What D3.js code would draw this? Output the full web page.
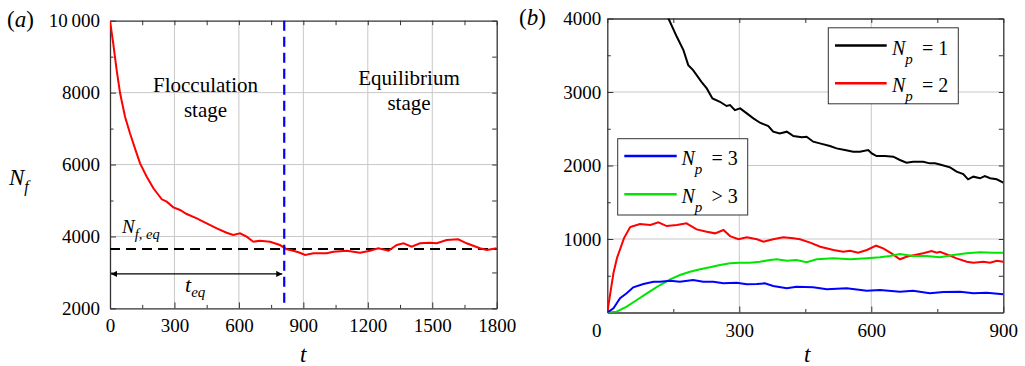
<!DOCTYPE html>
<html><head><meta charset="utf-8">
<script src="https://cdn.jsdelivr.net/npm/d3@7"></script>
</head><body style="margin:0">
<svg id="c" width="1025" height="366"></svg>
<script>
// ---------- Panel (a) data ----------
const tA  = [0,15,31,47,70,93,124,140,171,202,241,264,295,326,357,404,450,497,543,574,605,636,667,698,745,791,823,853,884,908,947,1009,1040,1102,1164,1210,1249,1296,1335,1366,1404,1443,1490,1521,1567,1621,1660,1722,1754,1800];
const nfA = [10000,9372,8629,7981,7330,6869,6312,6034,5662,5339,5033,4967,4811,4736,4624,4505,4366,4227,4105,4040,4087,3993,3854,3882,3854,3762,3643,3604,3548,3484,3531,3531,3576,3604,3548,3604,3671,3604,3762,3810,3715,3810,3826,3810,3901,3920,3810,3671,3623,3671];
const tEq = 811;
const nfEq = 3650;
const arrowY = 2960;
const xTicksA = [0,300,600,900,1200,1500,1800];
const xMinorA = [150,450,750,1050,1350,1650];
const yTicksA = [2000,4000,6000,8000,10000];
const yMinorA = [3000,5000,7000,9000];
const xGridA = [300,600,900,1200,1500];
const yGridA = [4000,6000,8000];

// ---------- Panel (b) data ----------
const tP1 = [125,139,158,173,184,195,214,226,239,256,271,279,290,302,317,332,347,366,377,392,408,423,442,453,468,483,506,521,540,559,574,593,601,612,631,650,665,680,695,718,733,745,760,779,794,809,820,832,847,858,870,885,900];
const nP1 = [4200,4000,3751,3570,3366,3298,3139,3049,2913,2867,2809,2822,2754,2777,2709,2641,2582,2537,2460,2437,2460,2401,2383,2392,2324,2301,2265,2233,2211,2188,2188,2211,2165,2129,2129,2120,2075,2039,2052,2052,2029,2029,2007,1975,1916,1884,1812,1848,1826,1857,1826,1812,1767];
const tP2 = [0,14,22,38,52,74,98,116,135,158,180,203,226,245,264,279,298,317,340,355,377,400,423,438,461,484,514,536,552,570,590,611,627,646,665,680,699,718,737,749,756,775,794,817,832,855,870,885,900];
const nP2 = [0,537,741,1013,1163,1204,1190,1227,1176,1190,1213,1131,1099,1077,1122,1040,996,1023,996,963,996,1023,1009,996,950,895,850,827,841,813,850,909,873,805,724,759,782,805,837,813,827,782,737,691,677,691,677,705,691];
const tP3 = [0,14,29,44,59,82,105,120,143,165,195,218,241,264,294,317,340,358,377,408,430,468,499,544,590,620,665,695,733,764,802,832,862,900];
const nP3 = [0,57,193,261,343,388,419,419,432,419,442,419,419,397,405,383,388,397,360,329,351,343,316,329,296,306,283,296,261,279,283,261,269,247];
const tP4 = [0,21,44,67,90,112,120,143,165,188,211,233,256,279,300,324,347,370,385,408,430,453,476,514,552,590,620,642,665,695,726,756,786,817,847,877,900];
const nP4 = [0,11,79,170,261,345,374,451,510,555,588,615,646,669,677,677,691,714,723,705,714,683,723,737,723,737,751,768,796,768,768,751,782,805,819,813,813];
const xTicksB = [0,300,600,900];
const xMinorB = [150,450,750];
const yTicksB = [1000,2000,3000,4000];
const yMinorB = [500,1500,2500,3500];
const xGridB = [300,600];
const yGridB = [1000,2000,3000];
const legend1 = [{label:"1", op:"=", color:"#000"},{label:"2", op:"=", color:"#ff0000"}];
const legend2 = [{label:"3", op:"=", color:"#0000ff"},{label:"3", op:">", color:"#00e600"}];

const SERIF = "'Liberation Serif'";
const svg = d3.select("#c");
const AX = "#333";
const GRID = "#c8c8c8";

function styleAxis(g, fs){
  g.attr("font-family",null).attr("font-size",null);
  g.selectAll("text").style("font-family",SERIF).attr("font-size",fs).attr("fill","#000");
  g.selectAll("line").attr("stroke",AX).attr("stroke-width",1);
  g.select(".domain").attr("stroke",AX).attr("stroke-width",1.3);
}

function frame(x, y, o){
  const [x0,x1] = x.range(), [y0,y1] = y.range();
  const G = svg.append("g");
  G.selectAll(null).data(o.xGrid).join("line")
    .attr("x1",d=>x(d)).attr("x2",d=>x(d)).attr("y1",y0).attr("y2",y1)
    .attr("stroke",GRID).attr("stroke-width",1);
  G.selectAll(null).data(o.yGrid).join("line")
    .attr("y1",d=>y(d)).attr("y2",d=>y(d)).attr("x1",x0).attr("x2",x1)
    .attr("stroke",GRID).attr("stroke-width",1);
  const b = G.append("g").attr("transform",`translate(0,${y0})`)
    .call(d3.axisBottom(x).tickValues(o.xTicks).tickSize(-6).tickSizeOuter(0).tickPadding(o.xPad).tickFormat(o.xFmt||d3.format("d")));
  styleAxis(b,19);
  const bm = G.append("g").attr("transform",`translate(0,${y0})`)
    .call(d3.axisBottom(x).tickValues(o.xMinor).tickSize(-3.5).tickFormat(""));
  bm.select(".domain").remove(); styleAxis(bm,19);
  const t = G.append("g").attr("transform",`translate(0,${y1})`)
    .call(d3.axisTop(x).tickValues(o.xTicks.concat(o.xMinor)).tickSize(-4.5).tickSizeOuter(0).tickFormat(""));
  styleAxis(t,19);
  const l = G.append("g").attr("transform",`translate(${x0},0)`)
    .call(d3.axisLeft(y).tickValues(o.yTicks).tickSize(-6).tickSizeOuter(0).tickPadding(o.yPad).tickFormat(o.yFmt||d3.format("d")));
  styleAxis(l,19);
  const lm = G.append("g").attr("transform",`translate(${x0},0)`)
    .call(d3.axisLeft(y).tickValues(o.yMinor).tickSize(-3.5).tickFormat(""));
  lm.select(".domain").remove(); styleAxis(lm,19);
  const r = G.append("g").attr("transform",`translate(${x1},0)`)
    .call(d3.axisRight(y).tickValues(o.yTicks.concat(o.yMinor)).tickSize(-4.5).tickSizeOuter(0).tickFormat(""));
  styleAxis(r,19);
  return {b,l};
}

function txt(parent, x, y, fs){
  return parent.append("text").attr("x",x).attr("y",y).style("font-family",SERIF).attr("font-size",fs);
}
function italicSub(parent, x, y, main, sub, fs, sfs, sdx, sdy){
  const t = txt(parent, x, y, fs);
  t.append("tspan").style("font-style","italic").text(main);
  t.append("tspan").style("font-style","italic").attr("font-size",sfs).attr("dx",sdx).attr("dy",sdy).text(sub);
  return t;
}

// ====== Panel (a) ======
const xa = d3.scaleLinear().domain([0,1800]).range([110,496.7]);
const ya = d3.scaleLinear().domain([2000,10000]).range([308.4,20.7]);
frame(xa, ya, {xGrid:xGridA,yGrid:yGridA,xTicks:xTicksA,xMinor:xMinorA,yTicks:yTicksA,yMinor:yMinorA,
  xPad:10, yPad:10, yFmt:d=> d===10000 ? "10\u2009000" : String(d)});

svg.append("defs").html(`<clipPath id="ca"><rect x="110" y="20.7" width="386.7" height="287.7"/></clipPath>
<clipPath id="cb"><rect x="607.3" y="18.5" width="396" height="294"/></clipPath>
<marker id="ah" viewBox="0 0 10 10" refX="10" refY="5" markerWidth="9" markerHeight="6" markerUnits="userSpaceOnUse" orient="auto-start-reverse"><path d="M0,0L10,5L0,10z" fill="#000"/></marker>`);

const gA = svg.append("g");
gA.append("line").attr("x1",xa(0)).attr("x2",xa(1800)).attr("y1",ya(nfEq)).attr("y2",ya(nfEq))
  .attr("stroke","#000").attr("stroke-width",2).attr("stroke-dasharray","10,6");
gA.append("path").datum(tA.map((t,i)=>[t,nfA[i]]))
  .attr("d",d3.line().x(d=>xa(d[0])).y(d=>ya(d[1])))
  .attr("fill","none").attr("stroke","#ff0000").attr("stroke-width",2).attr("clip-path","url(#ca)");
gA.append("line").attr("x1",xa(tEq)).attr("x2",xa(tEq)).attr("y1",ya(10000)).attr("y2",ya(2000))
  .attr("stroke","#0000ff").attr("stroke-width",2.2).attr("stroke-dasharray","10,6");
gA.append("line").attr("x1",xa(0)+1).attr("x2",xa(tEq)-2).attr("y1",ya(arrowY)).attr("y2",ya(arrowY))
  .attr("stroke","#000").attr("stroke-width",1.2)
  .attr("marker-start","url(#ah)").attr("marker-end","url(#ah)");

txt(gA,205.5,92,21).attr("text-anchor","middle").text("Flocculation");
txt(gA,205.5,117,21).attr("text-anchor","middle").text("stage");
txt(gA,409,85,21).attr("text-anchor","middle").text("Equilibrium");
txt(gA,409,109.5,21).attr("text-anchor","middle").text("stage");
italicSub(gA, 122, 232.5, "N", "f, eq", 19, 14.5, 0, 6);
italicSub(gA, 185, 292, "t", "eq", 22, 15, 0, 5);
italicSub(gA, 9, 185, "N", "f", 23, 16, 0, 7);
txt(gA,300,362,23).style("font-style","italic").text("t");
const la = txt(gA,7,27,23);
la.append("tspan").text("(");
la.append("tspan").style("font-style","italic").text("a");
la.append("tspan").text(")");

// ====== Panel (b) ======
const xb = d3.scaleLinear().domain([0,900]).range([607.3,1003.3]);
const yb = d3.scaleLinear().domain([0,4000]).range([312.5,18.5]);
const fb = frame(xb, yb, {xGrid:xGridB,yGrid:yGridB,xTicks:xTicksB,xMinor:xMinorB,yTicks:yTicksB,yMinor:yMinorB,
  xPad:11, yPad:6});
fb.b.selectAll(".tick text").filter(d=>d===0).attr("dx",-11);

const gB = svg.append("g").attr("clip-path","url(#cb)");
const lineB = d3.line().x(d=>xb(d[0])).y(d=>yb(d[1]));
const seriesB = [
  {t:tP1, v:nP1, c:"#000"},
  {t:tP2, v:nP2, c:"#ff0000"},
  {t:tP4, v:nP4, c:"#00e600"},
  {t:tP3, v:nP3, c:"#0000ff"}
];
seriesB.forEach(s=>{
  gB.append("path").datum(s.t.map((t,i)=>[t,s.v[i]])).attr("d",lineB)
    .attr("fill","none").attr("stroke",s.c).attr("stroke-width",2);
});

function legend(x, y, w, h, items, lx0, lx1, ly, step, tx){
  const g = svg.append("g");
  g.append("rect").attr("x",x).attr("y",y).attr("width",w).attr("height",h)
    .attr("fill","#fff").attr("stroke",AX).attr("stroke-width",1);
  items.forEach((it,i)=>{
    const yy = ly + i*step;
    g.append("line").attr("x1",lx0).attr("x2",lx1).attr("y1",yy).attr("y2",yy)
      .attr("stroke",it.color).attr("stroke-width",2.5);
    const t = txt(g, tx, yy+9, 20);
    t.append("tspan").style("font-style","italic").text("N");
    t.append("tspan").style("font-style","italic").attr("font-size",15).attr("dx",0).attr("dy",9).text("p");
    txt(g, tx+30, yy+9, 20).text(it.op + " " + it.label);
  });
}
legend(828.3, 27.8, 130, 76, legend1, 835, 886.7, 45.5, 37.8, 892);
legend(617.7, 138.7, 130, 76.3, legend2, 624.3, 676.7, 156, 38.3, 681.5);

txt(svg,804,362,23).style("font-style","italic").text("t");
const lb = txt(svg,519,25,23);
lb.append("tspan").text("(");
lb.append("tspan").style("font-style","italic").text("b");
lb.append("tspan").text(")");
</script>
</body></html>
